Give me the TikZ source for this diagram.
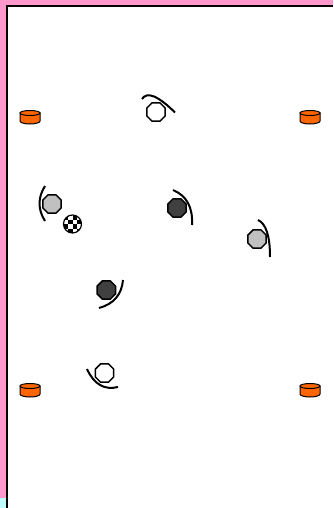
\documentclass[tikz,border=0pt]{standalone}
\usetikzlibrary{shapes.geometric,calc}
\definecolor{pinkedge}{HTML}{FF99CC}
\definecolor{cyanedge}{HTML}{C0FFFF}
\definecolor{puckorange}{HTML}{FF6600}
\definecolor{greyp}{HTML}{C0C0C0}
\definecolor{darkp}{HTML}{404040}
\tikzset{
  player/.style={regular polygon, regular polygon sides=8, minimum size=20pt, inner sep=0pt, draw=black, line width=1.5pt},
  stick/.style={draw=black, line width=2pt},
  puck/.pic={
    \filldraw[fill=puckorange, draw=black, line width=1pt]
      (-10,-4) -- (-10,4) arc[start angle=180, end angle=0, x radius=10, y radius=3] -- (10,-4) -- cycle;
    \filldraw[fill=puckorange, draw=black, line width=1pt] (0,-4) ellipse[x radius=10, y radius=2.5];
  }
}
\begin{document}
\begin{tikzpicture}[x=1pt, y=-1pt]
\useasboundingbox (0,0) rectangle (333,508);
\fill[white] (0,0) rectangle (333,508);
% border
\fill[pinkedge] (0,0) rectangle (333,5.5);
\fill[pinkedge] (0,0) rectangle (5.5,498);
\fill[cyanedge] (0,498) rectangle (5.5,508);
\draw[black, line width=2pt] (6.5,508) -- (6.5,6.5) -- (333,6.5);
% pucks
\pic (puckA) at (30,117) {puck};
\pic (puckB) at (310,117) {puck};
\pic (puckC) at (30,390) {puck};
\pic (puckD) at (310,390) {puck};
% players
\node[player, fill=white] (p1) at (156,112) {};
\node[player, fill=greyp] (p2) at (52,204) {};
\node[player, fill=darkp] (p3) at (177,208) {};
\node[player, fill=greyp] (p4) at (257,239) {};
\node[player, fill=darkp] (p5) at (106.3,290) {};
\node[player, fill=white] (p6) at (104.5,373) {};
% sticks
\draw[stick] (142,99) .. controls (147,91.17) and (158,95.67) .. (175,112.5);
\draw[stick] (45,186) .. controls (37.67,197.67) and (37.67,209.33) .. (45,221);
\draw[stick] (173,190) .. controls (186.67,195.67) and (193,207.33) .. (192,225);
\draw[stick] (258,220) .. controls (266,223.67) and (270,236) .. (270,257);
\draw[stick] (123,280) .. controls (121.67,294.67) and (113.67,304) .. (99,308);
\draw[stick] (87,369) .. controls (94,384.33) and (104.33,390.33) .. (118,387);
% ball
\coordinate (ball) at (72.5,224);
\begin{scope}
  \clip (ball) circle (9);
  \fill[white] (ball) circle (9);
  \foreach \i in {-2,...,1} {
    \foreach \j in {-2,...,1} {
      \pgfmathtruncatemacro{\parity}{mod(\i+\j+4,2)}
      \ifnum\parity=0
        \fill[black] ($(ball)+(\i*4.5,\j*4.5)$) rectangle ++(4.5,4.5);
      \fi
    }
  }
\end{scope}
\draw[black, line width=1.2pt] (ball) circle (9);
\end{tikzpicture}
\end{document}
